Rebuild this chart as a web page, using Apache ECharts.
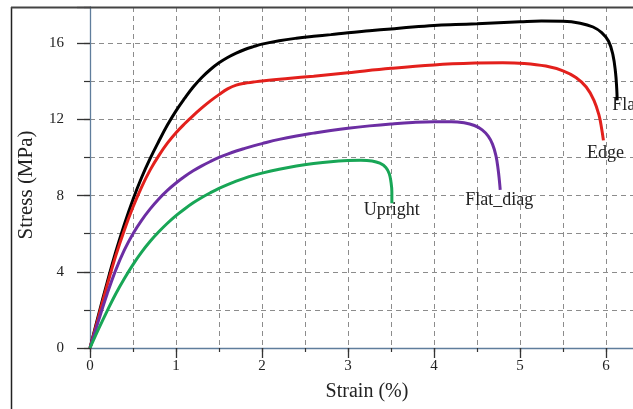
<!DOCTYPE html>
<html><head><meta charset="utf-8">
<script src="https://cdn.jsdelivr.net/npm/echarts@6/dist/echarts.min.js"></script>
<style>html,body{margin:0;padding:0;background:#fff;overflow:hidden;width:633px;height:409px}#c{width:660px;height:409px}</style>
</head><body><div id="c"></div>
<script>
// ---- data ----
const seriesNames = ['Flat', 'Edge', 'Flat_diag', 'Upright'];
const flatStrain  = [0, 0.1, 0.2, 0.3, 0.4, 0.5, 0.6, 0.7, 0.8, 0.9, 1.0, 1.1, 1.2, 1.3, 1.4, 1.5, 1.6, 1.7, 1.8, 1.9, 2.0, 2.2, 2.4, 2.6, 2.8, 3.0, 3.25, 3.5, 3.75, 4.0, 4.25, 4.5, 4.75, 5.0, 5.25, 5.5, 5.7, 5.85, 5.95, 6.03, 6.08, 6.11, 6.125, 6.13];
const flatStress  = [0, 1.75, 3.45, 5.05, 6.5, 7.8, 8.95, 9.95, 10.85, 11.7, 12.45, 13.1, 13.7, 14.2, 14.62, 14.97, 15.25, 15.48, 15.67, 15.82, 15.95, 16.13, 16.26, 16.36, 16.45, 16.55, 16.65, 16.75, 16.85, 16.93, 16.98, 17.02, 17.07, 17.12, 17.16, 17.15, 17.05, 16.85, 16.55, 16.1, 15.4, 14.5, 13.6, 13.0];
const edgeStrain  = [0, 0.1, 0.2, 0.3, 0.4, 0.5, 0.6, 0.7, 0.8, 0.9, 1.0, 1.1, 1.2, 1.3, 1.4, 1.5, 1.6, 1.7, 1.8, 1.9, 2.0, 2.3, 2.6, 3.0, 3.5, 4.0, 4.5, 4.8, 5.05, 5.3, 5.5, 5.65, 5.77, 5.86, 5.92, 5.95, 5.97];
const edgeStress  = [0, 1.65, 3.3, 4.85, 6.2, 7.4, 8.45, 9.35, 10.1, 10.75, 11.3, 11.77, 12.2, 12.6, 12.97, 13.3, 13.6, 13.8, 13.9, 13.96, 14.02, 14.15, 14.27, 14.45, 14.68, 14.86, 14.96, 14.98, 14.94, 14.8, 14.55, 14.2, 13.7, 13.0, 12.2, 11.5, 10.9];
const diagStrain  = [0, 0.1, 0.2, 0.3, 0.4, 0.5, 0.6, 0.7, 0.8, 0.9, 1.0, 1.1, 1.2, 1.3, 1.4, 1.5, 1.6, 1.7, 1.8, 1.9, 2.0, 2.2, 2.4, 2.6, 2.8, 3.0, 3.25, 3.5, 3.75, 4.0, 4.2, 4.35, 4.47, 4.56, 4.63, 4.68, 4.72, 4.745, 4.76, 4.77];
const diagStress  = [0, 1.45, 2.85, 4.1, 5.15, 6.0, 6.7, 7.3, 7.82, 8.27, 8.66, 9.0, 9.3, 9.56, 9.79, 10.0, 10.18, 10.34, 10.48, 10.61, 10.73, 10.95, 11.13, 11.28, 11.42, 11.54, 11.66, 11.76, 11.84, 11.88, 11.88, 11.82, 11.68, 11.45, 11.12, 10.7, 10.1, 9.4, 8.8, 8.3];
const uprStrain   = [0, 0.1, 0.2, 0.3, 0.4, 0.5, 0.6, 0.7, 0.8, 0.9, 1.0, 1.1, 1.2, 1.3, 1.4, 1.5, 1.6, 1.7, 1.8, 1.9, 2.0, 2.2, 2.4, 2.6, 2.8, 3.0, 3.15, 3.28, 3.37, 3.44, 3.48, 3.5, 3.51, 3.51];
const uprStress   = [0, 1.0, 1.95, 2.85, 3.65, 4.38, 5.03, 5.6, 6.1, 6.55, 6.95, 7.3, 7.62, 7.9, 8.15, 8.38, 8.58, 8.76, 8.92, 9.06, 9.18, 9.38, 9.55, 9.68, 9.78, 9.84, 9.86, 9.82, 9.7, 9.48, 9.15, 8.7, 8.2, 7.6];
const xTickLabels = [0, 1, 2, 3, 4, 5, 6];
const yTickLabels = [0, 4, 8, 12, 16];
const xMax = 6.5, yMax = 17.9;

// ---- styles ----
const colors = ['#000000', '#e3201c', '#6c2ea3', '#18a656'];
const serif = '"Liberation Serif", "DejaVu Serif", serif';
const labelOffsets = [[-5, 5], [2, 13], [-1, 10], [0, 7]];
const labelAlign = ['left', 'center', 'center', 'center'];

const strains = [flatStrain, edgeStrain, diagStrain, uprStrain];
const stresses = [flatStress, edgeStress, diagStress, uprStress];

const series = seriesNames.map((name, k) => {
  const data = strains[k].map((x, i) => [x, stresses[k][i]]);
  const last = data[data.length - 1];
  return {
    name, type: 'line', data, xAxisIndex: 0, yAxisIndex: 0,
    showSymbol: false, smooth: 0.4, z: 5,
    lineStyle: { color: colors[k], width: 3 },
    itemStyle: { color: colors[k] },
    markPoint: {
      silent: true, symbol: 'circle', symbolSize: 1,
      itemStyle: { color: 'rgba(0,0,0,0)' },
      label: { show: true, position: 'inside', formatter: name, offset: labelOffsets[k],
               align: labelAlign[k], color: '#222', fontFamily: serif, fontSize: 18 },
      data: [{ coord: last }]
    }
  };
});

const gridLine = { show: true, lineStyle: { color: '#8c8c8c', width: 1, type: [5, 4] } };
const axisCol = '#5f7d9c';

const option = {
  animation: false,
  backgroundColor: '#fff',
  grid: { left: 90, right: 11, top: 7, bottom: 61 },
  xAxis: [
    { type: 'value', min: 0, max: xMax, interval: 1, position: 'bottom',
      axisLine: { show: true, lineStyle: { color: axisCol, width: 1.3 } },
      axisTick: { show: true, length: 10, lineStyle: { color: '#333', width: 1.3 } },
      axisLabel: { margin: 11, color: '#222', fontFamily: serif, fontSize: 15,
                   formatter: v => xTickLabels.includes(v) ? String(v) : '' },
      splitLine: { show: false },
      name: 'Strain (%)', nameLocation: 'middle', nameGap: 34,
      nameTextStyle: { color: '#222', fontFamily: serif, fontSize: 20, padding: [0, 5, 0, 0] } },
    { type: 'value', min: 0, max: xMax, interval: 0.5, position: 'bottom',
      axisLine: { show: false },
      axisTick: { show: true, length: 4, lineStyle: { color: '#333', width: 1.2 } },
      axisLabel: { show: false }, splitLine: gridLine }
  ],
  yAxis: [
    { type: 'value', min: 0, max: yMax, interval: 4, position: 'left',
      axisLine: { show: true, lineStyle: { color: axisCol, width: 1.3 } },
      axisTick: { show: true, length: 13, lineStyle: { color: '#333', width: 1.3 } },
      axisLabel: { margin: 26, color: '#222', fontFamily: serif, fontSize: 15,
                   formatter: v => yTickLabels.includes(v) ? String(v) : '' },
      splitLine: { show: false },
      name: 'Stress (MPa)', nameLocation: 'middle', nameGap: 53,
      nameTextStyle: { color: '#222', fontFamily: serif, fontSize: 21, padding: [0, 15, 0, 0] } },
    { type: 'value', min: 0, max: yMax, interval: 2, position: 'left',
      axisLine: { show: false },
      axisTick: { show: true, length: 6, lineStyle: { color: '#333', width: 1.2 } },
      axisLabel: { show: false }, splitLine: gridLine }
  ],
  graphic: [
    { type: 'line', z: 100, shape: { x1: 11.5, y1: 7, x2: 11.5, y2: 409 }, style: { stroke: '#222', lineWidth: 1.5 } },
    { type: 'line', z: 100, shape: { x1: 11, y1: 7.5, x2: 660, y2: 7.5 }, style: { stroke: '#444', lineWidth: 2 } }
  ],
  series
};
const chart = echarts.init(document.getElementById('c'), null, { renderer: 'canvas' });
chart.setOption(option);
</script></body></html>
